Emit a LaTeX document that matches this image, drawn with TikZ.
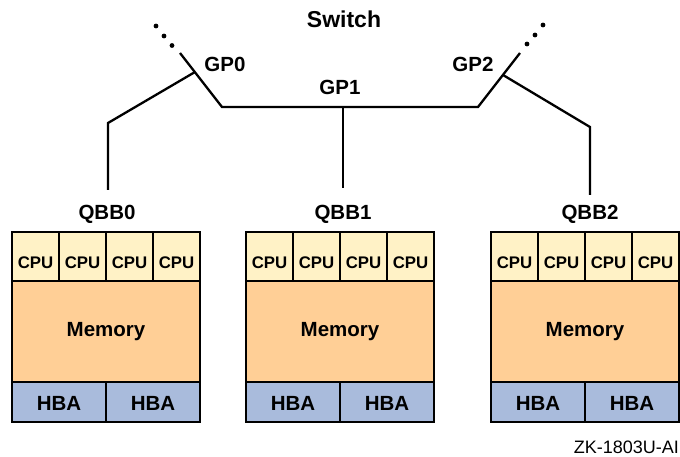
\documentclass[tikz,border=0pt]{standalone}
\usepackage{fontspec}
\setmainfont{Liberation Sans}
\definecolor{cpuc}{HTML}{FFF2C6}
\definecolor{memc}{HTML}{FFCF96}
\definecolor{hbac}{HTML}{A9BBDC}
\begin{document}
\begin{tikzpicture}[x=1pt,y=-1pt,
  cell/.style={draw=black,line width=2pt,inner sep=0pt,outer sep=0pt},
  cpucell/.style={cell,fill=cpuc,minimum width=47pt,minimum height=49pt},
  memcell/.style={cell,fill=memc,minimum width=188pt,minimum height=101pt},
  hbacell/.style={cell,fill=hbac,minimum width=94pt,minimum height=40pt},
  lbl/.style={inner sep=0pt,anchor=base,font=\fontsize{20.5}{22}\selectfont\bfseries},
  cputxt/.style={inner sep=0pt,anchor=base,font=\fontsize{16.8}{18}\selectfont\bfseries},
  wire/.style={line width=2.3pt,line join=miter},
  dot/.style={circle,fill=black,inner sep=0pt,minimum size=4.8pt}]
\useasboundingbox (0,0) rectangle (680,457);

% switch
\node[inner sep=0pt,anchor=base,font=\fontsize{23}{25}\selectfont\bfseries] (sw) at (344,28) {Switch};
\coordinate (l0) at (180,53);
\coordinate (l1) at (222,107);
\coordinate (r1) at (478,107);
\coordinate (r0) at (520,53);
\coordinate (j0) at (195,72);
\coordinate (j1) at (343,107);
\coordinate (j2) at (503,75);
\draw[wire] (l0) -- (l1) -- (r1) -- (r0);
\node[dot] (dl1) at (156,26) {};
\node[dot] (dl2) at (164,36) {};
\node[dot] (dl3) at (172,45.5) {};
\node[dot] (dr1) at (527,44) {};
\node[dot] (dr2) at (535,35) {};
\node[dot] (dr3) at (543,25) {};
\node[lbl] (gp0) at (225,72) {GP0};
\node[lbl] (gp1) at (340,95) {GP1};
\node[lbl] (gp2) at (473,72) {GP2};

% QBBs
\foreach \n/\x/\lx in {0/12/107,1/246/343,2/491/590}{
  \node[lbl] (q\n) at (\lx,220) {QBB\n};
  \foreach \i in {0,1,2,3}{
    \node[cpucell] (q\n c\i) at ({\x+23.5+47*\i},256.5) {};
    \node[cputxt] (q\n ct\i) at ({\x+23.5+47*\i},269) {CPU};
  }
  \node[memcell] (q\n m) at ({\x+94},331.5) {};
  \node[lbl] (q\n mt) at ({\x+94},336) {Memory};
  \foreach \i in {0,1}{
    \node[hbacell] (q\n h\i) at ({\x+47+94*\i},402) {};
    \node[lbl] (q\n ht\i) at ({\x+47+94*\i},410) {HBA};
  }
}

\coordinate (e0) at (108,123);
\coordinate (f0) at (108,190);
\coordinate (f1) at (343,188);
\coordinate (e2) at (590,127);
\coordinate (f2) at (590,195);
\draw[wire] (j0) -- (e0) -- (f0);
\draw[wire] (j1) -- (f1);
\draw[wire] (j2) -- (e2) -- (f2);

\node[inner sep=0pt,anchor=base east,font=\fontsize{18}{20}\selectfont] (zk) at (679,453) {ZK-1803U-AI};
\end{tikzpicture}
\end{document}
